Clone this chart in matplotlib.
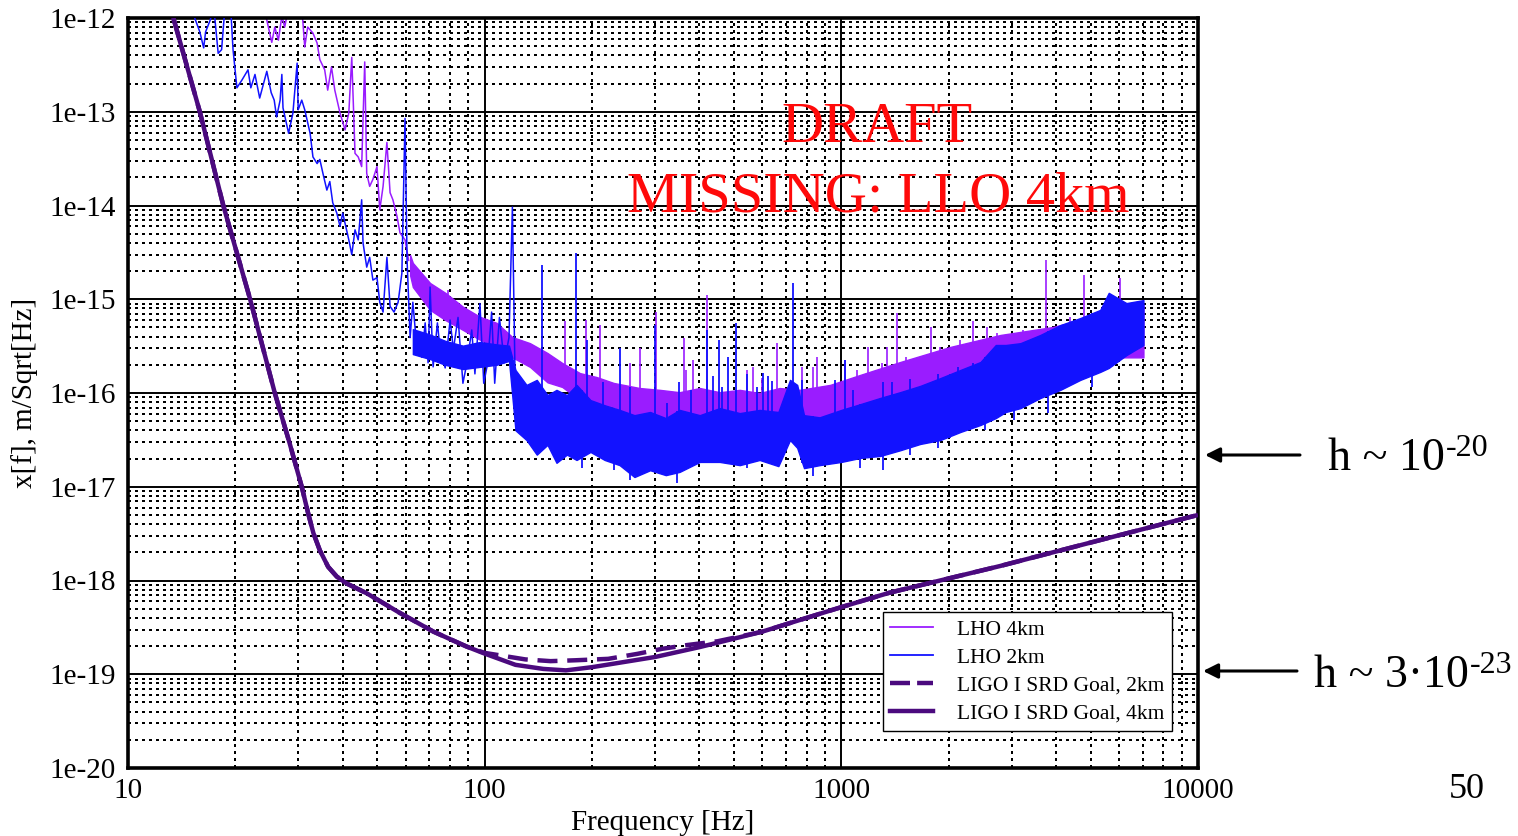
import numpy as np
import matplotlib
matplotlib.use("Agg")
import matplotlib.pyplot as plt
from matplotlib.patches import FancyArrowPatch
from matplotlib.ticker import FixedLocator, FixedFormatter, LogLocator, NullFormatter
from matplotlib.lines import Line2D

plt.rcParams["font.family"] = ["Liberation Serif", "DejaVu Serif"]

W, H = 1518, 836

# ---------------- axis ticks ----------------
X_TICKS = [10, 100, 1000, 10000]
X_TICK_LABELS = ["10", "100", "1000", "10000"]
Y_TICKS = [1e-20, 1e-19, 1e-18, 1e-17, 1e-16, 1e-15, 1e-14, 1e-13, 1e-12]
Y_TICK_LABELS = ["1e-20", "1e-19", "1e-18", "1e-17", "1e-16",
                 "1e-15", "1e-14", "1e-13", "1e-12"]

# ---------------- LIGO I SRD goal curves [m/rtHz] ----------------
SRD4_FREQ = [13.4, 15.9, 18.5, 22.0, 25.8, 28.4, 30.7, 32.0, 33.1, 34.5, 36.4,
             38.5, 41.0, 46.7, 57.9, 71.8, 89.1, 100, 122, 146, 169, 200, 301,
             401, 597, 1000, 1363, 2793, 5321, 10000]
SRD4_ASD = [1e-12, 1e-13, 1e-14, 1e-15, 1e-16, 2.9e-17, 1.0e-17, 5.2e-18,
            3.2e-18, 2.1e-18, 1.4e-18, 1.1e-18, 9.3e-19, 7.3e-19, 4.5e-19,
            2.85e-19, 1.97e-19, 1.66e-19, 1.26e-19, 1.14e-19, 1.10e-19,
            1.19e-19, 1.53e-19, 1.95e-19, 2.83e-19, 5.2e-19, 7.4e-19,
            1.43e-18, 2.7e-18, 5.0e-18]

SRD2_FREQ = [13.4, 15.9, 18.5, 22.0, 25.8, 28.4, 30.7, 32.0, 33.1, 34.5, 36.4,
             38.5, 41.0, 46.7, 57.9, 71.8, 89.1, 100, 130, 153, 180, 222, 268,
             315, 370, 450, 597, 1000, 1363, 2793, 5321, 10000]
SRD2_ASD = [1e-12, 1e-13, 1e-14, 1e-15, 1e-16, 2.9e-17, 1.0e-17, 5.2e-18,
            3.2e-18, 2.1e-18, 1.4e-18, 1.1e-18, 9.3e-19, 7.3e-19, 4.5e-19,
            2.85e-19, 1.97e-19, 1.69e-19, 1.44e-19, 1.38e-19, 1.41e-19,
            1.46e-19, 1.65e-19, 1.87e-19, 2.05e-19, 2.25e-19, 2.83e-19,
            5.2e-19, 7.4e-19, 1.43e-18, 2.7e-18, 5.0e-18]

# ---------------- LHO 4km measured spectrum ----------------
# low-frequency trace
LHO4_TRACE_FREQ = [24.2, 24.5, 25.3, 25.8, 26.4, 27.0, 27.5, 28.2, 30.5, 30.9,
                   31.3, 31.9, 33.0, 33.9, 34.5, 35.6, 36.3, 37.2, 38.0, 39.3,
                   40.6, 41.6, 42.4, 43.3, 44.2, 45.2, 46.1, 46.7, 47.6, 48.6,
                   49.9, 50.8, 51.9, 53.2, 54.3, 55.3, 56.8, 57.9, 59.8, 61.2]
LHO4_TRACE_ASD = [1.3e-12, 9.5e-13, 5.5e-13, 8.0e-13, 5.8e-13, 1.05e-12,
                  8.0e-13, 1.3e-12, 1.3e-12, 9.5e-13, 4.9e-13, 8.0e-13,
                  6.9e-13, 5.4e-13, 3.6e-13, 2.8e-13, 1.7e-13, 3.0e-13,
                  1.7e-13, 9.7e-14, 6.4e-14, 9.7e-14, 3.8e-13, 3.6e-14,
                  3.3e-14, 2.6e-14, 3.4e-13, 2.2e-14, 1.6e-14, 1.9e-14,
                  2.6e-14, 9.0e-15, 1.6e-14, 4.7e-14, 1.37e-14, 1.15e-14,
                  7.6e-15, 5.1e-15, 4.3e-15, 2.6e-15]
# dense noise floor: lower / upper extent
LHO4_BAND_FREQ = [61.8, 62.9, 70.3, 77.6, 87, 97, 108, 119.6, 134, 150, 165,
                  185, 206, 230, 272, 310, 352, 401, 456, 519, 590, 671, 764,
                  930, 1130, 1462, 2020, 2793, 3920, 5321, 7030]
LHO4_BAND_LO = [1.8e-15, 1.35e-15, 7.7e-16, 6.0e-16, 4.7e-16, 3.7e-16, 3.1e-16,
                2.4e-16, 1.9e-16, 1.3e-16, 1.16e-16, 8.4e-17, 7.8e-17, 7.1e-17,
                5.2e-17, 4.9e-17, 4.8e-17, 5.2e-17, 4.8e-17, 4.6e-17, 4.6e-17,
                4.45e-17, 4.2e-17, 4.6e-17, 5.8e-17, 7.4e-17, 1.08e-16,
                1.68e-16, 2.0e-16, 2.4e-16, 2.4e-16]
LHO4_BAND_HI = [2.96e-15, 2.44e-15, 1.49e-15, 1.17e-15, 8.3e-16, 6.5e-16,
                5.6e-16, 3.95e-16, 3.4e-16, 2.67e-16, 2.09e-16, 1.63e-16,
                1.48e-16, 1.28e-16, 1.13e-16, 1.08e-16, 1.02e-16, 1.13e-16,
                1.02e-16, 1.08e-16, 1.0e-16, 1.13e-16, 1.08e-16, 1.22e-16,
                1.56e-16, 2.14e-16, 3.1e-16, 4.16e-16, 5.06e-16, 6.8e-16,
                8.7e-16]
# narrow lines rising above the floor
LHO4_LINE_FREQ = [78.9, 159, 167.6, 192, 211, 256, 272, 302, 361, 368, 383,
                  420, 543, 564, 598, 659, 778, 832, 853, 1026, 1109, 1190,
                  1300, 1346, 1436, 1520, 1630, 1779, 1894, 2157, 2333, 2566,
                  2735, 3240, 3760, 4370, 4775, 5190, 5470, 6030]
LHO4_LINE_PEAK = [1.26e-15, 2.25e-16, 5.8e-16, 6.0e-16, 5.3e-16, 2.1e-16,
                  3.0e-16, 7.3e-16, 3.9e-16, 1.76e-16, 2.25e-16, 1.1e-15,
                  1.76e-16, 1.9e-16, 1.44e-16, 3.4e-16, 1.9e-16, 1.9e-16,
                  2.4e-16, 2.25e-16, 1.76e-16, 3.1e-16, 2.1e-16, 3.1e-16,
                  7.1e-16, 2.4e-16, 2.2e-16, 5.1e-16, 3.1e-16, 3.7e-16,
                  5.8e-16, 5.1e-16, 4.4e-16, 4.7e-16, 2.6e-15, 6.5e-16,
                  1.8e-15, 7.1e-16, 7.1e-16, 1.7e-15]

# ---------------- LHO 2km measured spectrum ----------------
LHO2_TRACE_FREQ = [15.0, 15.9, 16.3, 16.5, 17.0, 17.4, 17.9, 18.3, 18.7, 19.4,
                   19.7, 20.2, 20.9, 21.7, 22.1, 22.7, 23.4, 24.5, 25.2, 25.7,
                   26.1, 26.7, 27.0, 27.2, 28.2, 29.0, 29.8, 30.0, 30.7, 31.3,
                   32.4, 33.0, 33.9, 34.5, 35.2, 36.1, 36.8, 37.5, 38.5, 39.3,
                   40.0, 41.6, 42.4, 43.3, 44.2, 45.2, 45.6, 46.7, 47.6, 48.6,
                   49.9, 50.8, 51.9, 53.2, 54.3, 55.7, 57.2, 58.6, 59.8, 60.6,
                   61.8, 62.9, 64.6, 66.7, 68.1, 69.4, 70.3, 71.7, 73.7, 75.0,
                   77.5, 80.0, 81.7, 84.2, 86.9, 89.2, 92.0, 93.9, 97.0, 99.4,
                   102, 104.6, 106.7, 110, 113.5, 117, 119.6, 122]
LHO2_TRACE_ASD = [1.3e-12, 7.1e-13, 4.8e-13, 7.1e-13, 9.5e-13, 1.3e-12,
                  4.2e-13, 4.6e-13, 1.3e-12, 1.3e-12, 4.6e-13, 1.8e-13,
                  2.2e-13, 2.8e-13, 1.8e-13, 2.5e-13, 1.4e-13, 2.7e-13,
                  1.6e-13, 1.33e-13, 8.8e-14, 1.33e-13, 2.5e-13, 1.1e-13,
                  5.9e-14, 9.7e-14, 3.3e-13, 1.05e-13, 1.33e-13, 1.05e-13,
                  5.9e-14, 3.3e-14, 2.8e-14, 3.1e-14, 2.2e-14, 1.46e-14,
                  1.8e-14, 1.07e-14, 8.3e-15, 6.0e-15, 8.3e-15, 4.3e-15,
                  3.0e-15, 5.5e-15, 4.3e-15, 1.15e-14, 4.0e-15, 2.2e-15,
                  2.8e-15, 1.6e-15, 1.7e-15, 9.3e-16, 7.3e-16, 2.8e-15,
                  8.4e-16, 7.3e-16, 9.3e-16, 1.9e-15, 8.5e-14, 2.6e-15,
                  3.9e-16, 9.3e-16, 2.9e-16, 2.4e-16, 5.6e-16, 2.1e-16,
                  1.35e-15, 1.9e-16, 5.6e-16, 2.9e-16, 1.85e-16, 6.0e-16,
                  2.9e-16, 6.4e-16, 1.27e-16, 2.1e-16, 4.7e-16, 1.6e-16,
                  9.0e-16, 1.27e-16, 2.1e-16, 7.3e-16, 1.27e-16, 6.4e-16,
                  2.1e-16, 3.9e-16, 9.6e-15, 7.9e-17]
LHO2_BAND_FREQ = [62.9, 70.3, 77.5, 86.9, 97.0, 108, 117, 122, 131, 140, 150,
                  159, 170, 181, 198, 217, 239, 263, 291, 322, 352, 401, 456,
                  519, 590, 666, 718, 752, 786, 869, 1000, 1130, 1285, 1462,
                  1664, 1894, 2157, 2455, 2710, 2890, 3178, 3614, 4112, 4677,
                  5321, 5620, 6300, 7030]
LHO2_BAND_LO = [2.6e-16, 2.3e-16, 2.0e-16, 1.8e-16, 1.9e-16, 2.0e-16, 2.2e-16,
                4.0e-17, 3.15e-17, 2.2e-17, 2.8e-17, 1.8e-17, 2.2e-17,
                1.93e-17, 2.35e-17, 1.93e-17, 1.7e-17, 1.27e-17, 1.5e-17,
                1.33e-17, 1.44e-17, 1.84e-17, 1.84e-17, 1.7e-17, 1.93e-17,
                1.66e-17, 3.15e-17, 2.6e-17, 1.58e-17, 1.7e-17, 1.84e-17,
                2.03e-17, 2.13e-17, 2.45e-17, 2.86e-17, 3.15e-17, 3.84e-17,
                4.56e-17, 5.4e-17, 6.27e-17, 6.9e-17, 8.85e-17, 1.08e-16,
                1.38e-16, 1.68e-16, 1.85e-16, 2.54e-16, 3.25e-16]
LHO2_BAND_HI = [4.8e-16, 4.2e-16, 3.6e-16, 3.2e-16, 3.5e-16, 3.3e-16, 3.2e-16,
                1.76e-16, 1.22e-16, 1.38e-16, 9.5e-17, 1.08e-16, 9.5e-17,
                1.22e-16, 8.4e-17, 7.4e-17, 6.6e-17, 5.8e-17, 6.27e-17,
                5.4e-17, 6.6e-17, 5.8e-17, 6.9e-17, 6.1e-17, 6.6e-17,
                6.27e-17, 1.38e-16, 1.22e-16, 5.8e-17, 5.5e-17, 6.6e-17,
                7.6e-17, 8.85e-17, 1.02e-16, 1.19e-16, 1.44e-16, 1.76e-16,
                2.14e-16, 3.25e-16, 3.25e-16, 3.4e-16, 4.16e-16, 5.3e-16,
                6.3e-16, 7.7e-16, 1.17e-15, 9.1e-16, 9.8e-16]
LHO2_LINE_FREQ = [145, 180, 194, 214, 239, 256, 300, 324, 350, 380, 420, 436,
                  453, 462, 480, 508, 543, 579, 602, 621, 638, 730, 778, 957,
                  1026, 1080, 1311, 1390, 1560, 1870, 2120, 2345, 3440]
LHO2_LINE_PEAK = [2.3e-15, 3.1e-15, 3.7e-16, 1.3e-16, 3.0e-16, 1.16e-16,
                  5.3e-16, 7.8e-17, 1.3e-16, 1.08e-16, 4.7e-16, 1.5e-16,
                  3.7e-16, 1.17e-16, 2.4e-16, 5.6e-16, 1.6e-16, 1.17e-16,
                  1.63e-16, 1.5e-16, 1.33e-16, 1.5e-15, 1.38e-16, 1.38e-16,
                  2.25e-16, 1.08e-16, 1.3e-16, 1.3e-16, 1.4e-16, 1.6e-16,
                  1.9e-16, 2.1e-16, 3.7e-16]
LHO2_DIP_FREQ = [187, 230, 255, 346, 543, 832, 1130, 1311, 1560, 1870, 2020,
                 2530, 3045, 3790, 5050]
LHO2_DIP_FLOOR = [1.6e-17, 1.5e-17, 1.18e-17, 1.1e-17, 1.6e-17, 1.3e-17,
                  1.6e-17, 1.5e-17, 2.2e-17, 2.6e-17, 3.3e-17, 4.0e-17,
                  5.2e-17, 6.1e-17, 1.16e-16]

PURPLE = "#9A1CFF"
BLUE = "#1212FF"
INDIGO = "#4B0A7E"
RED = "#FF0A0A"


def floor_at(freq, band_f, band_v):
    """Level of a band edge at the given frequencies (log-log)."""
    return 10 ** np.interp(np.log10(freq), np.log10(band_f), np.log10(band_v))


fig = plt.figure(figsize=(W / 100, H / 100), dpi=100)
ax = fig.add_axes([128 / W, 1 - 768 / H, (1198 - 128) / W, (768 - 18) / H])
ax.set_xscale("log")
ax.set_yscale("log")
ax.set_xlim(10, 10000)
ax.set_ylim(1e-20, 1e-12)

ax.xaxis.set_major_locator(FixedLocator(X_TICKS))
ax.xaxis.set_major_formatter(FixedFormatter(X_TICK_LABELS))
ax.yaxis.set_major_locator(FixedLocator(Y_TICKS))
ax.yaxis.set_major_formatter(FixedFormatter(Y_TICK_LABELS))
for axis in (ax.xaxis, ax.yaxis):
    axis.set_minor_locator(LogLocator(base=10, subs=np.arange(2, 10), numticks=20))
    axis.set_minor_formatter(NullFormatter())
ax.tick_params(which="both", length=0, labelsize=21)
ax.tick_params(axis="x", pad=7)
ax.tick_params(axis="y", pad=9)

ax.set_axisbelow(True)
ax.grid(which="major", color="black", lw=1.4, ls="-")
ax.grid(which="minor", color="black", lw=1.5, ls=(0, (1.0, 2.1)),
        antialiased=False)
for sp in ax.spines.values():
    sp.set_linewidth(2.6)

# LHO 4km
ax.plot(LHO4_TRACE_FREQ, LHO4_TRACE_ASD, color=PURPLE, lw=1.1, zorder=2)
ax.fill_between(LHO4_BAND_FREQ, LHO4_BAND_LO, LHO4_BAND_HI, color=PURPLE,
                lw=1.0, zorder=2)
ax.vlines(LHO4_LINE_FREQ,
          floor_at(LHO4_LINE_FREQ, LHO4_BAND_FREQ, LHO4_BAND_LO),
          LHO4_LINE_PEAK, colors=PURPLE, lw=1.2, zorder=2)

# LHO 2km
ax.plot(LHO2_TRACE_FREQ, LHO2_TRACE_ASD, color=BLUE, lw=1.1, zorder=3)
ax.fill_between(LHO2_BAND_FREQ, LHO2_BAND_LO, LHO2_BAND_HI, color=BLUE,
                lw=1.0, zorder=3)
ax.vlines(LHO2_LINE_FREQ,
          floor_at(LHO2_LINE_FREQ, LHO2_BAND_FREQ, LHO2_BAND_LO),
          LHO2_LINE_PEAK, colors=BLUE, lw=1.3, zorder=3)
ax.vlines(LHO2_DIP_FREQ, LHO2_DIP_FLOOR,
          floor_at(LHO2_DIP_FREQ, LHO2_BAND_FREQ, LHO2_BAND_HI),
          colors=BLUE, lw=1.3, zorder=3)

# design goals
ax.plot(SRD2_FREQ, SRD2_ASD, color=INDIGO, lw=3.2, ls=(0, (4.5, 2.2)), zorder=4)
ax.plot(SRD4_FREQ, SRD4_ASD, color=INDIGO, lw=3.2, zorder=5,
        solid_capstyle="butt")

handles = [
    Line2D([], [], color=PURPLE, lw=1.3, label="LHO 4km"),
    Line2D([], [], color=BLUE, lw=1.3, label="LHO 2km"),
    Line2D([], [], color=INDIGO, lw=3.2, ls=(0, (4.5, 1.6)),
           label="LIGO I SRD Goal, 2km"),
    Line2D([], [], color=INDIGO, lw=3.2, label="LIGO I SRD Goal, 4km"),
]
leg = ax.legend(handles=handles, loc="lower right",
                bbox_to_anchor=(0.9757, 0.0493), fontsize=15.5, frameon=True,
                fancybox=False, edgecolor="black", framealpha=1,
                handlelength=2.0, handletextpad=1.1, borderpad=0.35,
                labelspacing=0.36, borderaxespad=0)
leg.get_frame().set_linewidth(1.0)
leg.set_zorder(10)

ax.set_xlabel("Frequency [Hz]", fontsize=21)
ax.xaxis.label.set_verticalalignment("baseline")
ax.xaxis.set_label_coords(0.5, (768 - 830) / 750)
ax.set_ylabel("x[f], m/Sqrt[Hz]", fontsize=21)
ax.yaxis.label.set_verticalalignment("center")
ax.yaxis.set_label_coords((25 - 128) / 1070, 0.5)

# red overlay notes
fig.text(877 / W, 1 - 142 / H, "DRAFT", color=RED, fontsize=42,
         ha="center", va="baseline")
fig.text(878 / W, 1 - 212 / H, "MISSING: LLO 4km", color=RED, fontsize=42,
         ha="center", va="baseline")

# strain equivalents at the right margin
for tail, head, yp in ((1300, 1205, 455), (1297, 1203, 671)):
    fig.add_artist(FancyArrowPatch(
        (tail / W, 1 - yp / H), (head / W, 1 - yp / H),
        transform=fig.transFigure, arrowstyle="-|>", mutation_scale=22,
        lw=2.2, color="black", shrinkA=0, shrinkB=0))

fig.canvas.draw()
for x_px, base_px, main, sup in ((1328, 470, "h ~ 10", "-20"),
                                 (1314, 687, "h ~ 3\u00b710", "-23")):
    t = fig.text(x_px / W, 1 - base_px / H, main, fontsize=33,
                 ha="left", va="baseline")
    bb = t.get_window_extent(renderer=fig.canvas.get_renderer())
    fig.text((bb.x1 + 1) / W, 1 - (base_px - 14) / H, sup, fontsize=23,
             ha="left", va="baseline")

fig.text(1467 / W, 1 - 798 / H, "50", fontsize=26, ha="center", va="baseline")

fig.savefig("out.png", dpi=100)
